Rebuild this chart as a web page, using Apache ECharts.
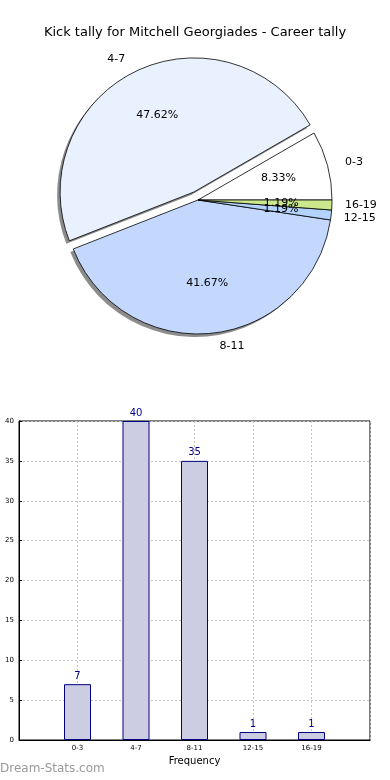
<!DOCTYPE html>
<html><head><meta charset="utf-8">
<script src="https://cdn.jsdelivr.net/npm/echarts@6/dist/echarts.min.js"></script>
<style>html,body{margin:0;padding:0;background:#fff}#c{width:390px;height:780px}</style>
</head><body><div id="c"></div>
<script>
var titleText = 'Kick tally for Mitchell Georgiades - Career tally';
var categories = ['0-3', '4-7', '8-11', '12-15', '16-19'];
var counts = [7, 40, 35, 1, 1];
var sliceColors = ['#ffffff', '#eaf1fe', '#c4d8fe', '#b3d2fc', '#cbe88c'];
var explodedIndex = 1;
var yTicks = [0, 5, 10, 15, 20, 25, 30, 35, 40];
var xAxisName = 'Frequency';
var watermark = 'Dream-Stats.com';

var FONT = 'DejaVu Sans';
var R = 134, C = [198, 200], OFF = 9;
var total = counts.reduce(function (a, b) { return a + b; }, 0);

function sliceData(withColor) {
  return categories.map(function (c, i) {
    var d = { name: c, value: counts[i], selected: i === explodedIndex };
    if (withColor) d.itemStyle = { color: sliceColors[i] };
    return d;
  });
}
var barData = counts.map(function (v, i) { return [i + 1, v]; });

var pieCommon = { type: 'pie', startAngle: 0, clockwise: false, selectedMode: 'single',
  silent: true, emphasis: { disabled: true }, labelLine: { show: false } };

var chart = echarts.init(document.getElementById('c'));
chart.setOption({
  animation: false,
  title: [
    { text: titleText, left: 'center', top: 21,
      textStyle: { fontFamily: FONT, fontSize: 13, fontWeight: 'normal', color: '#000' } },
    { text: watermark, left: 0, top: 763, padding: 0,
      textStyle: { fontFamily: FONT, fontSize: 12, fontWeight: 'normal', color: '#999' } }
  ],
  grid: { left: 19, right: 20, top: 421, bottom: 40, show: true, borderColor: '#000', borderWidth: 1 },
  xAxis: {
    type: 'value', min: 0, max: categories.length + 1, interval: 1,
    name: xAxisName, nameLocation: 'middle', nameGap: 16,
    nameTextStyle: { fontFamily: FONT, fontSize: 10, color: '#000' },
    axisLine: { show: true, lineStyle: { color: '#000' } },
    axisTick: { show: false },
    axisLabel: { fontFamily: FONT, fontSize: 7, color: '#000', margin: 5,
      formatter: function (v) { return categories[v - 1] || ''; } },
    splitLine: { show: true, lineStyle: { color: '#c4c4c4', type: [2, 2] } }
  },
  yAxis: {
    type: 'value', min: yTicks[0], max: yTicks[yTicks.length - 1], interval: yTicks[1] - yTicks[0],
    axisLine: { show: true, lineStyle: { color: '#000' } },
    axisTick: { show: true, inside: true, length: 3, lineStyle: { color: '#000' } },
    axisLabel: { fontFamily: FONT, fontSize: 7, color: '#000', margin: 5 },
    splitLine: { show: true, lineStyle: { color: '#c4c4c4', type: [2, 2] } }
  },
  series: [
    Object.assign({}, pieCommon, {
      center: [C[0] - 3, C[1] + 3], radius: R, selectedOffset: OFF,
      data: sliceData(false),
      itemStyle: { color: '#8c8c8c', borderWidth: 0 },
      label: { show: false }
    }),
    Object.assign({}, pieCommon, {
      center: C, radius: R, selectedOffset: OFF,
      avoidLabelOverlap: true,
      data: sliceData(true),
      itemStyle: { borderColor: '#000', borderWidth: 0.8 },
      label: { show: true, position: 'outside', fontFamily: FONT, fontSize: 11, color: '#000',
        formatter: '{b}' },
      labelLine: { show: false, length: 13, length2: 0 }
    }),
    Object.assign({}, pieCommon, {
      center: C, radius: R * 1.2, selectedOffset: OFF * 1.2,
      avoidLabelOverlap: false,
      labelLayout: { hideOverlap: false },
      data: sliceData(false),
      itemStyle: { color: 'rgba(0,0,0,0)', borderWidth: 0 },
      label: { show: true, position: 'inside', fontFamily: FONT, fontSize: 11, color: '#000',
        formatter: function (p) { return (p.value / total * 100).toFixed(2) + '%'; } }
    }),
    {
      type: 'bar', data: barData, barWidth: 27, silent: true,
      itemStyle: { color: '#ccccE3', borderColor: '#000080', borderWidth: 1 },
      label: { show: true, position: 'top', distance: 3, fontFamily: FONT, fontSize: 10, color: '#00008b',
        formatter: function (p) { return p.value[1]; } }
    }
  ]
});
</script></body></html>
